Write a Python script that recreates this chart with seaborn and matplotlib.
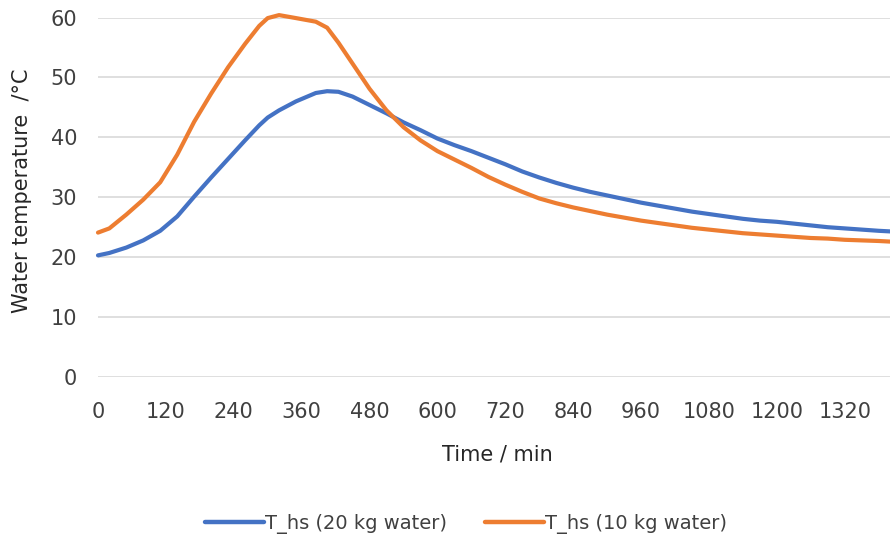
import numpy as np
import pandas as pd
import matplotlib
matplotlib.use("Agg")
import matplotlib.pyplot as plt
from matplotlib.lines import Line2D
import seaborn as sns

time_min = [0, 20, 50, 80, 110, 140, 170, 200, 230, 260, 285, 300, 320, 350, 385,
            405, 425, 450, 480, 510, 540, 570, 600, 630, 660, 690, 720, 750, 780,
            810, 840, 870, 900, 930, 960, 990, 1020, 1050, 1080, 1110, 1140, 1170,
            1200, 1230, 1260, 1290, 1320, 1350, 1380, 1400]

t_hs_20kg = [20.3, 20.7, 21.6, 22.8, 24.4, 26.8, 30.1, 33.3, 36.4, 39.5, 42.0,
             43.3, 44.5, 46.0, 47.4, 47.7, 47.6, 46.8, 45.4, 44.0, 42.5, 41.2,
             39.8, 38.7, 37.7, 36.6, 35.5, 34.3, 33.3, 32.4, 31.6, 30.9, 30.3,
             29.7, 29.1, 28.6, 28.1, 27.6, 27.2, 26.8, 26.4, 26.1, 25.9, 25.6,
             25.3, 25.0, 24.8, 24.6, 24.4, 24.3]

t_hs_10kg = [24.1, 24.8, 27.1, 29.6, 32.5, 37.1, 42.6, 47.3, 51.7, 55.6, 58.6,
             59.9, 60.4, 59.9, 59.3, 58.3, 55.8, 52.3, 48.1, 44.5, 41.7, 39.5,
             37.7, 36.3, 34.9, 33.4, 32.1, 30.9, 29.8, 29.0, 28.3, 27.7, 27.1,
             26.6, 26.1, 25.7, 25.3, 24.9, 24.6, 24.3, 24.0, 23.8, 23.6, 23.4,
             23.2, 23.1, 22.9, 22.8, 22.7, 22.6]

series_names = ["T_hs (20 kg water)", "T_hs (10 kg water)"]
x_ticks = [0, 120, 240, 360, 480, 600, 720, 840, 960, 1080, 1200, 1320]
y_ticks = [0, 10, 20, 30, 40, 50, 60]

df = pd.concat([
    pd.DataFrame({"time": time_min, "temp": t_hs_20kg, "series": series_names[0]}),
    pd.DataFrame({"time": time_min, "temp": t_hs_10kg, "series": series_names[1]}),
])

sns.set_theme(style="white")
plt.rcParams["font.family"] = ["DejaVu Sans"]

fig = plt.figure(figsize=(8.9, 5.41), dpi=100)
ax = fig.add_axes([98 / 890, 1 - 377 / 541, 1 - 98 / 890, (377 - 17.5) / 541])

palette = {series_names[0]: "#4472C4", series_names[1]: "#ED7D31"}
sns.lineplot(data=df, x="time", y="temp", hue="series", palette=palette,
             linewidth=3.0, ax=ax, legend=False, estimator=None, sort=False)
for ln in ax.lines:
    ln.set_clip_on(False)
    ln.set_solid_joinstyle("round")
    ln.set_solid_capstyle("round")

ax.set_xlim(0, 1400)
ax.set_ylim(0, 60)
ax.set_xticks(x_ticks)
ax.set_yticks(y_ticks)
ax.yaxis.grid(True, color="#D9D9D9", linewidth=1.2)
ax.xaxis.grid(False)
for s in ax.spines.values():
    s.set_visible(False)
ax.tick_params(axis="both", length=0, labelsize=15, colors="#404040")
ax.tick_params(axis="y", pad=15)
ax.tick_params(axis="x", pad=18)
ax.set_xlabel("Time / min", fontsize=15, color="#262626")
ax.set_ylabel("Water temperature  /°C", fontsize=15, color="#262626")
ax.xaxis.set_label_coords((497 - 98) / 792, -(444 - 377) / 359.5)
ax.yaxis.set_label_coords(-(98 - 32) / 792, (377 - 191) / 359.5)

handles = [Line2D([0], [0], color=palette[n], linewidth=3.2) for n in series_names]
fig.legend(handles, series_names, loc="center", bbox_to_anchor=(466 / 890, 1 - 524 / 541),
           ncol=2, frameon=False, fontsize=14, handlelength=3.0, handletextpad=0.05,
           columnspacing=2.0, labelcolor="#404040")

fig.savefig("out.png", dpi=100)
